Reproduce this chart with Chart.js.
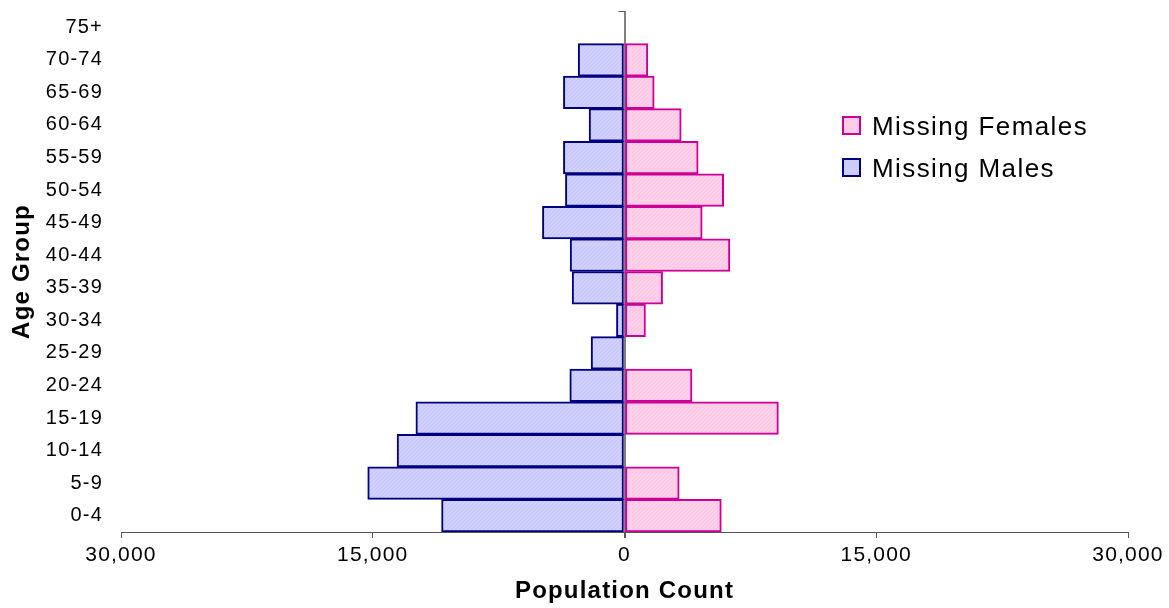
<!DOCTYPE html>
<html>
<head>
<meta charset="utf-8">
<script src="https://cdn.jsdelivr.net/npm/chart.js@4.4.1/dist/chart.umd.min.js"></script>
<style>
html,body{margin:0;padding:0;background:#fff;}
#wrap{position:relative;width:1169px;height:608px;overflow:hidden;}
canvas{display:block;}
.lbox{position:absolute;left:842px;width:15px;height:15px;border:2px solid;}
.ltxt{position:absolute;left:872px;font:26px 'Liberation Sans',Arial,sans-serif;letter-spacing:1.4px;color:#000;white-space:nowrap;}
</style>
</head>
<body>
<div id="wrap">
<canvas id="c" width="1169" height="608"></canvas>
<div class="lbox" id="boxF" style="top:116px;"></div>
<div class="ltxt" id="txtF" style="top:111px;"></div>
<div class="lbox" id="boxM" style="top:158px;"></div>
<div class="ltxt" id="txtM" style="top:153px;"></div>
</div>
<script>
// ---- data ----
const ageGroups = ['0-4','5-9','10-14','15-19','20-24','25-29','30-34','35-39','40-44','45-49','50-54','55-59','60-64','65-69','70-74','75+'];
const missingMales = [-10900,-15300,-13550,-12430,-3260,-1990,-480,-3120,-3240,-4890,-3520,-3640,-2110,-3640,-2760,0];
const missingFemales = [5770,3260,0,9170,4020,0,1250,2270,6280,4630,5910,4390,3380,1770,1390,0];
const xTickValues = [-30000,-15000,0,15000,30000];
const seriesNames = ['Missing Females','Missing Males'];

// ---- styles ----
const FONT = "'Liberation Sans', Arial, sans-serif";
const maleFill = '#ccccff', maleBorder = '#000080';
const femaleFill = '#ffcce6', femaleBorder = '#cc0099';

function makePattern(base, dot) {
  const p = document.createElement('canvas');
  p.width = 4; p.height = 4;
  const g = p.getContext('2d');
  g.fillStyle = base; g.fillRect(0,0,4,4);
  g.fillStyle = dot;
  for (let i = 0; i < 4; i++) g.fillRect(i, (4 - i) % 4, 1, 1);
  return g.createPattern(p, 'repeat');
}

// legend (HTML)
document.getElementById('txtF').textContent = seriesNames[0];
document.getElementById('txtM').textContent = seriesNames[1];
const bF = document.getElementById('boxF'); bF.style.background = femaleFill; bF.style.borderColor = femaleBorder;
const bM = document.getElementById('boxM'); bM.style.background = maleFill; bM.style.borderColor = maleBorder;

const LS = '1.2px';
const spacingPlugin = {
  id: 'spacing',
  beforeUpdate(chart){ chart.ctx.letterSpacing = LS; },
  beforeLayout(chart){ chart.ctx.letterSpacing = LS; },
  beforeDraw(chart){ chart.ctx.letterSpacing = LS; }
};

const zeroTicksPlugin = {
  id: 'zeroTicks',
  beforeDatasetsDraw(chart){
    const xs = chart.scales.x, ys = chart.scales.y, ctx = chart.ctx;
    const x0 = xs.getPixelForValue(0);
    ctx.save();
    ctx.strokeStyle = '#555';
    ctx.lineWidth = 1;
    ctx.beginPath();
    for (let i = 0; i <= ageGroups.length; i++) {
      const y = Math.round(ys.getPixelForValue(i - 0.5)) + 0.5;
      ctx.moveTo(x0 - 6, y); ctx.lineTo(x0, y);
    }
    ctx.stroke();
    ctx.restore();
  }
};

new Chart(document.getElementById('c'), {
  type: 'bar',
  data: {
    labels: ageGroups,
    datasets: [
      {
        label: seriesNames[0],
        data: missingFemales,
        backgroundColor: makePattern('#ffd0e8', '#ffc4e2'),
        borderColor: femaleBorder,
        borderWidth: 2,
        borderSkipped: false,
        barPercentage: 1,
        categoryPercentage: 1
      },
      {
        label: seriesNames[1],
        data: missingMales,
        backgroundColor: makePattern('#d0d0ff', '#c4c4fb'),
        borderColor: maleBorder,
        borderWidth: 2,
        borderSkipped: false,
        barPercentage: 1,
        categoryPercentage: 1
      }
    ]
  },
  options: {
    indexAxis: 'y',
    responsive: false,
    animation: false,
    layout: { padding: { top: 11, right: 41, bottom: 0, left: 0 } },
    plugins: {
      legend: { display: false },
      tooltip: { enabled: false }
    },
    scales: {
      x: {
        stacked: true,
        min: -30000,
        max: 30000,
        afterBuildTicks(scale){ scale.ticks = xTickValues.map(v => ({ value: v })); },
        afterFit(scale){ scale.height = 76; scale.paddingLeft = 0; scale.paddingRight = 0; },
        ticks: {
          color: '#000',
          font: { family: FONT, size: 21 },
          padding: 5,
          maxRotation: 0,
          callback: v => Math.abs(v).toLocaleString('en-US')
        },
        grid: {
          drawOnChartArea: true,
          drawTicks: true,
          tickLength: 6,
          tickColor: '#555',
          color: ctx => (ctx.tick && ctx.tick.value === 0) ? '#7f7f7f' : 'rgba(0,0,0,0)',
          lineWidth: ctx => (ctx.tick && ctx.tick.value === 0) ? 2 : 1
        },
        border: { display: true, color: '#555', width: 1 },
        title: {
          display: true,
          text: 'Population Count',
          color: '#000',
          font: { family: FONT, size: 24, weight: 'bold' },
          padding: { top: 0, bottom: 2 }
        }
      },
      y: {
        stacked: true,
        reverse: true,
        afterFit(scale){ scale.width = 121; scale.paddingTop = 0; scale.paddingBottom = 0; },
        ticks: {
          color: '#000',
          font: { family: FONT, size: 20 },
          padding: 10
        },
        grid: { display: false },
        border: { display: false },
        title: {
          display: true,
          text: 'Age Group',
          color: '#000',
          font: { family: FONT, size: 24, weight: 'bold' },
          padding: { top: 8, bottom: 0 }
        }
      }
    }
  },
  plugins: [spacingPlugin, zeroTicksPlugin]
});
</script>
</body>
</html>
